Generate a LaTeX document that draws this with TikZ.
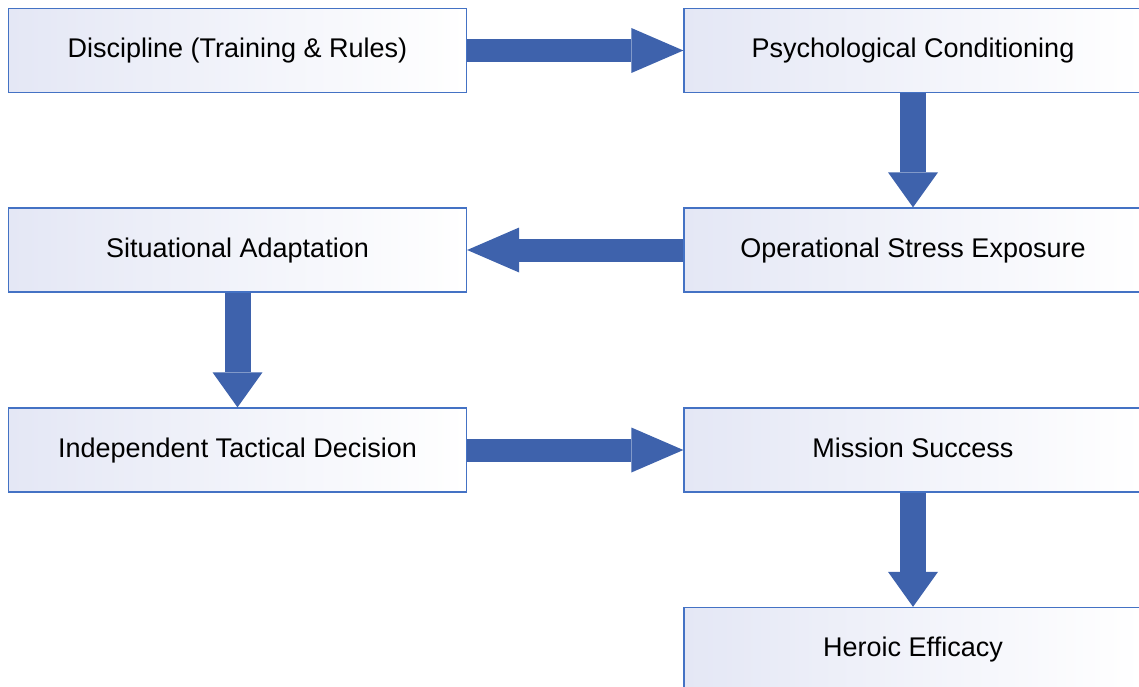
\documentclass[tikz,border=0pt]{standalone}
\usepackage{fontspec}
\setmainfont{Liberation Sans}
\usetikzlibrary{arrows.meta}
\definecolor{boxline}{RGB}{68,114,196}
\definecolor{boxfill}{RGB}{228,231,245}
\definecolor{flowblue}{RGB}{62,98,172}

\begin{document}
\begin{tikzpicture}[x=1pt,y=-1pt]
		\tikzstyle{every node}+=[inner sep=0pt]
		\tikzstyle{stage}=[draw=boxline, line width=1.3pt, left color=boxfill, right color=white, minimum width=458pt, minimum height=84pt, text height=19pt, text depth=5pt, font=\fontsize{27}{30}\selectfont]
		\tikzstyle{hflow}=[draw=flowblue, line width=23pt, -{Triangle[length=52pt 0 1, width=45pt 0 1, line width'=0pt]}]
		\tikzstyle{vflow}=[draw=flowblue, line width=26pt, -{Triangle[length=35pt 0 1, width=50pt 0 1, line width'=0pt]}]
		\useasboundingbox (0,0) rectangle (1139,687);
		\clip (0,0) rectangle (1139,687);
		% left column
		\node [stage] (discipline) at (237.5,50.5) {Discipline (Training \& Rules)};
		\node [stage] (adaptation) at (237.5,250) {Situational Adaptation};
		\node [stage] (decision) at (237.5,450) {Independent Tactical Decision};
		% right column
		\node [stage] (conditioning) at (913,50.5) {Psychological Conditioning};
		\node [stage] (stress) at (913,250) {Operational Stress Exposure};
		\node [stage] (success) at (913,450) {Mission Success};
		\node [stage] (efficacy) at (913,649.5) {Heroic Efficacy};
		% flow
		\draw [hflow] (discipline) -- (conditioning);
		\draw [vflow] (conditioning) -- (stress);
		\draw [hflow] (stress) -- (adaptation);
		\draw [vflow] (adaptation) -- (decision);
		\draw [hflow] (decision) -- (success);
		\draw [vflow] (success) -- (efficacy);
	\end{tikzpicture}
\end{document}
